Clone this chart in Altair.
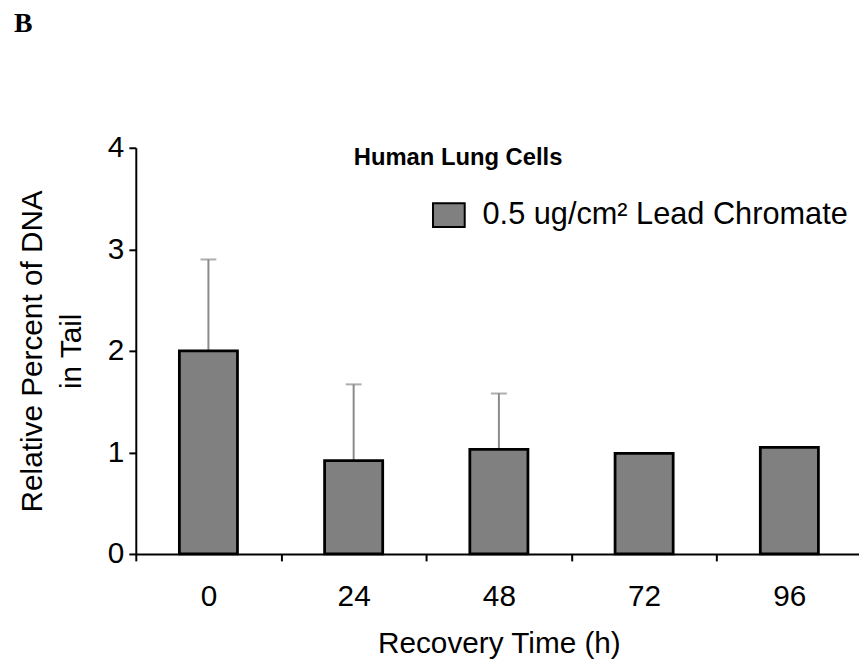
import altair as alt
import pandas as pd

# ---- data ----
times = ["0", "24", "48", "72", "96"]
values = [2.00, 0.92, 1.03, 0.99, 1.05]
upper = [2.90, 1.67, 1.58, None, None]
series_name = "0.5 ug/cm² Lead Chromate"
y_ticks = [0, 1, 2, 3, 4]
chart_title = "Human Lung Cells"
panel_label = "B"

df = pd.DataFrame({"time": times, "value": values, "upper": upper, "series": series_name})
err = df.dropna(subset=["upper"])

FONT = "Liberation Sans, Arial, Helvetica, sans-serif"
SERIF = "Liberation Serif, Times New Roman, serif"

RANGE_W = 733
step = RANGE_W / len(times)

x_scale = alt.Scale(domain=times, range=[0, RANGE_W], paddingInner=0.6, paddingOuter=0.3)
y_scale = alt.Scale(domain=[0, 4], nice=False)

x_axis = alt.Axis(
    title="Recovery Time (h)", labelAngle=0, tickOffset=-step / 2, labelOffset=step / 2,
    labelPadding=21, titlePadding=17, grid=False,
)
y_axis = alt.Axis(
    title=["Relative Percent of DNA", "in Tail"], values=y_ticks, format="d", grid=False,
    labelPadding=5, titlePadding=21, titleLineHeight=40,
)

x_enc = alt.X("time:N", scale=x_scale, axis=x_axis, sort=times)

rules = alt.Chart(err).mark_rule(color="#8a8a8a", strokeWidth=2).encode(
    x=x_enc,
    y=alt.Y("value:Q", scale=y_scale, axis=y_axis),
    y2="upper:Q",
)
caps = alt.Chart(err).mark_tick(color="#8a8a8a", thickness=2, size=16).encode(
    x=x_enc,
    y=alt.Y("upper:Q", scale=y_scale),
)
bars = alt.Chart(df).mark_bar(stroke="black", strokeWidth=2.8).encode(
    x=x_enc,
    y=alt.Y("value:Q", scale=y_scale, axis=y_axis),
    color=alt.Color(
        "series:N",
        scale=alt.Scale(domain=[series_name], range=["#808080"]),
        legend=alt.Legend(
            title=None, orient="none", legendX=299, legendY=51, padding=0,
            symbolType="M-1,-0.75H1V0.75H-1Z", symbolSize=1024,
            symbolStrokeColor="black", symbolStrokeWidth=2, symbolOpacity=1,
            labelFont=FONT, labelFontSize=31, labelColor="black", labelOffset=17,
            labelLimit=0,
        ),
    ),
)

title_txt = alt.Chart(pd.DataFrame({"label": [chart_title]})).mark_text(
    align="left", baseline="alphabetic", font=FONT, fontSize=24, fontWeight="bold", color="black"
).encode(x=alt.value(220), y=alt.value(17), text="label:N")

b_txt = alt.Chart(pd.DataFrame({"label": [panel_label]})).mark_text(
    align="left", baseline="alphabetic", font=SERIF, fontSize=28, fontWeight="bold", color="black"
).encode(x=alt.value(-123), y=alt.value(-117), text="label:N")

chart = (
    alt.layer(rules, caps, bars, title_txt, b_txt)
    .properties(
        width=730, height=410,
        autosize=alt.AutoSizeParams(type="none"),
        padding={"left": 129, "top": 138, "right": 0, "bottom": 108},
    )
    .configure_view(stroke=None)
    .configure_axis(
        domainColor="black", domainWidth=2, tickColor="black", tickWidth=2, tickSize=7,
        labelFont=FONT, labelFontSize=30, labelColor="black",
        titleFont=FONT, titleFontSize=30, titleFontWeight="normal", titleColor="black",
    )
)

chart.save("out.html", embed_options={"renderer": "svg", "actions": False})
